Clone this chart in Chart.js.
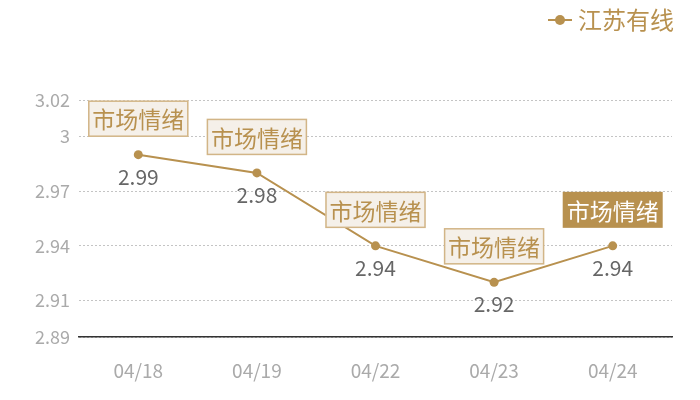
<!DOCTYPE html>
<html>
<head>
<meta charset="utf-8">
<script src="https://cdn.jsdelivr.net/npm/chart.js@4"></script>
<style>
  html, body { margin: 0; padding: 0; background: #fff; }
  #wrap { width: 700px; height: 400px; }
</style>
</head>
<body>
<div id="wrap"><canvas id="chart"></canvas></div>
<script>
const categories = ['04/18', '04/19', '04/22', '04/23', '04/24'];
const values = [2.99, 2.98, 2.94, 2.92, 2.94];
const yTicks = [2.89, 2.91, 2.94, 2.97, 3, 3.02];
const seriesName = '江苏有线';
const boxLabel = '市场情绪';
const highlightIndex = 4;

const gold = '#b8914f';
const fontFamily = '"Noto Sans CJK SC", "Noto Sans", sans-serif';

// legend, value labels and mood boxes drawn on top
const overlay = {
	id: 'overlay',
	afterDatasetsDraw(chart) {
		const ctx = chart.ctx;
		const meta = chart.getDatasetMeta(0);
		ctx.save();

		// legend top right
		ctx.strokeStyle = gold;
		ctx.lineWidth = 2;
		ctx.beginPath();
		ctx.moveTo(548, 20);
		ctx.lineTo(572, 20);
		ctx.stroke();
		ctx.fillStyle = gold;
		ctx.beginPath();
		ctx.arc(560, 20, 5, 0, Math.PI * 2);
		ctx.fill();
		ctx.font = '24px ' + fontFamily;
		ctx.textAlign = 'left';
		ctx.textBaseline = 'middle';
		ctx.fillText(seriesName, 578, 20);

		meta.data.forEach((pt, i) => {
			// value under point
			ctx.font = '21px ' + fontFamily;
			ctx.fillStyle = '#666';
			ctx.textAlign = 'center';
			ctx.textBaseline = 'middle';
			ctx.fillText(values[i].toFixed(2), pt.x, pt.y + 22);

			// box above point
			const w = 100, h = 36;
			const bx = pt.x - w / 2, by = pt.y - 18 - h;
			const hi = i === highlightIndex;
			ctx.fillStyle = hi ? gold : '#f5f0e9';
			ctx.fillRect(bx, by, w, h);
			if (!hi) {
				ctx.strokeStyle = '#d2b587';
				ctx.lineWidth = 1.5;
				ctx.strokeRect(bx + 0.5, by + 0.5, w - 1, h - 1);
			}
			ctx.font = '23px ' + fontFamily;
			ctx.fillStyle = hi ? '#fff' : gold;
			ctx.fillText(boxLabel, pt.x, by + h / 2 + 1);
		});
		ctx.restore();
	}
};

new Chart(document.getElementById('chart'), {
	type: 'line',
	data: {
		labels: categories,
		datasets: [{
			label: seriesName,
			data: values,
			borderColor: gold,
			backgroundColor: gold,
			borderWidth: 2,
			pointRadius: 4.5,
			pointBackgroundColor: gold,
			pointBorderWidth: 0,
			tension: 0
		}]
	},
	options: {
		responsive: true,
		maintainAspectRatio: false,
		animation: false,
		layout: { padding: { top: 100, right: 28, left: 0, bottom: 0 } },
		plugins: {
			legend: { display: false },
			tooltip: { enabled: false }
		},
		scales: {
			x: {
				offset: true,
				grid: { display: false, drawTicks: false },
				border: { display: true, color: '#333', width: 1.5 },
				ticks: {
					color: '#aaa',
					padding: 22,
					font: { size: 19, family: fontFamily }
				},
				afterFit(axis) { axis.height = 63; }
			},
			y: {
				min: 2.89,
				max: 3.02,
				afterBuildTicks(axis) {
					axis.ticks = yTicks.map(v => ({ value: v }));
				},
				afterFit(axis) { axis.width = 79; },
				grid: {
					color: '#c4c4c4',
					drawTicks: false,
					lineWidth: 1
				},
				border: { display: false, dash: [2, 2] },
				ticks: {
					color: '#aaa',
					padding: 9,
					font: { size: 18, family: fontFamily },
					callback: v => String(v)
				}
			}
		}
	},
	plugins: [overlay]
});
</script>
</body>
</html>
